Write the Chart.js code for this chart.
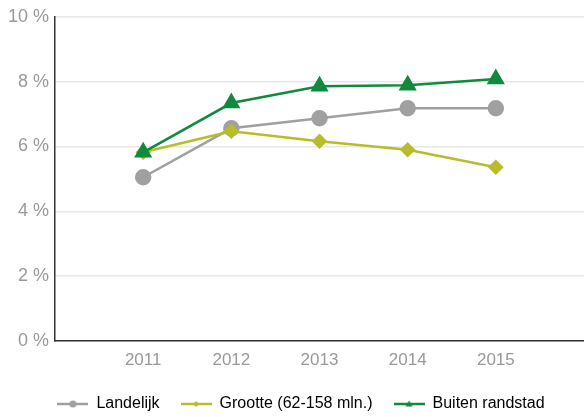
<!DOCTYPE html>
<html><head><meta charset="utf-8">
<script src="https://cdn.jsdelivr.net/npm/chart.js@4"></script>
<style>html,body{margin:0;padding:0;background:#fff}#w{width:584px;height:417px}</style>
</head><body><div id="w"><canvas id="c"></canvas></div>
<script>
const categories = ['2011','2012','2013','2014','2015'];
const landelijk = [5.05, 6.56, 6.87, 7.18, 7.18];
const grootte = [5.82, 6.47, 6.16, 5.90, 5.36];
const buiten = [5.82, 7.34, 7.86, 7.89, 8.08];
const seriesNames = ['Landelijk', 'Grootte (62-158 mln.)', 'Buiten randstad'];
const yTicks = [0, 2, 4, 6, 8, 10];

const colors = ['#a0a0a0', '#b7bd28', '#108a3c'];
const styles = ['circle', 'rectRot', 'triangle'];

function legendIcon(color, style) {
  const c = document.createElement('canvas');
  c.width = 31; c.height = 10;
  const g = c.getContext('2d');
  g.strokeStyle = color; g.lineWidth = 2.5;
  g.beginPath(); g.moveTo(0, 5); g.lineTo(31, 5); g.stroke();
  g.fillStyle = color;
  g.beginPath();
  if (style === 'circle') { g.arc(15.5, 5, 3.5, 0, Math.PI * 2); }
  else if (style === 'rectRot') { g.moveTo(15.5, 2); g.lineTo(18.5, 5); g.lineTo(15.5, 8); g.lineTo(12.5, 5); g.closePath(); }
  else { g.moveTo(15.5, 1.5); g.lineTo(19, 7.5); g.lineTo(12, 7.5); g.closePath(); }
  g.fill();
  return c;
}

const allData = [landelijk, grootte, buiten];
const datasets = allData.map((arr, i) => ({
  label: seriesNames[i],
  data: arr.map((v, j) => ({ x: Number(categories[j]), y: v })),
  borderColor: colors[i],
  backgroundColor: colors[i],
  borderWidth: 2.5,
  pointStyle: styles[i],
  pointRadius: i === 0 ? 7 : (i === 1 ? 6 : 8),
  pointHoverRadius: 7,
  tension: 0,
  fill: false,
  order: 3 - i
}));

const legendTweak = {
  id: 'legendTweak',
  beforeLayout(chart) {
    const lg = chart.legend;
    if (lg && !lg._tweaked) {
      const orig = lg.fit;
      lg.fit = function () { orig.call(this); this.height = 42; };
      lg._tweaked = true;
    }
  },
  afterLayout(chart) {
    const lg = chart.legend;
    if (lg) { lg.left += 8; lg.right += 8; }
  }
};

new Chart(document.getElementById('c'), {
  type: 'line',
  data: { datasets },
  plugins: [legendTweak],
  options: {
    responsive: true,
    maintainAspectRatio: false,
    animation: false,
    layout: { autoPadding: false, padding: { left: 2, right: 0, top: 13, bottom: 0 } },
    plugins: {
      legend: {
        position: 'bottom',
        labels: {
          color: '#111',
          font: { family: 'Liberation Sans', size: 16 },
          boxWidth: 31,
          pointStyleWidth: 31,
          padding: 21,
          usePointStyle: true,
          generateLabels: (chart) => chart.data.datasets.map((d, i) => ({
            text: d.label,
            pointStyle: legendIcon(colors[i], styles[i]),
            fillStyle: colors[i], strokeStyle: colors[i], lineWidth: 0,
            datasetIndex: i, hidden: false
          }))
        }
      },
      tooltip: { enabled: false }
    },
    scales: {
      x: {
        type: 'linear',
        min: 2010, max: 2016,
        grid: { display: false, drawTicks: false },
        border: { display: true, color: '#333', width: 1.5 },
        afterBuildTicks: (s) => { s.ticks = [2010].concat(categories.map(Number), [2016]).map(v => ({ value: v })); },
        afterFit: (s) => { s.height = 34; s.paddingRight = 0; },
        ticks: {
          color: '#999',
          font: { family: 'Liberation Sans', size: 17 },
          padding: 9,
          callback: (v) => (categories.includes(String(v)) ? String(v) : '')
        }
      },
      y: {
        min: 0, max: 10,
        afterBuildTicks: (s) => { s.ticks = yTicks.map(v => ({ value: v })); },
        grid: { color: '#e8e8e8', lineWidth: 1.5, drawTicks: false },
        border: { display: true, color: '#333', width: 1.5 },
        ticks: {
          color: '#999',
          font: { family: 'Liberation Sans', size: 18 },
          padding: 6,
          callback: (v) => v + ' %'
        }
      }
    }
  }
});
</script></body></html>
